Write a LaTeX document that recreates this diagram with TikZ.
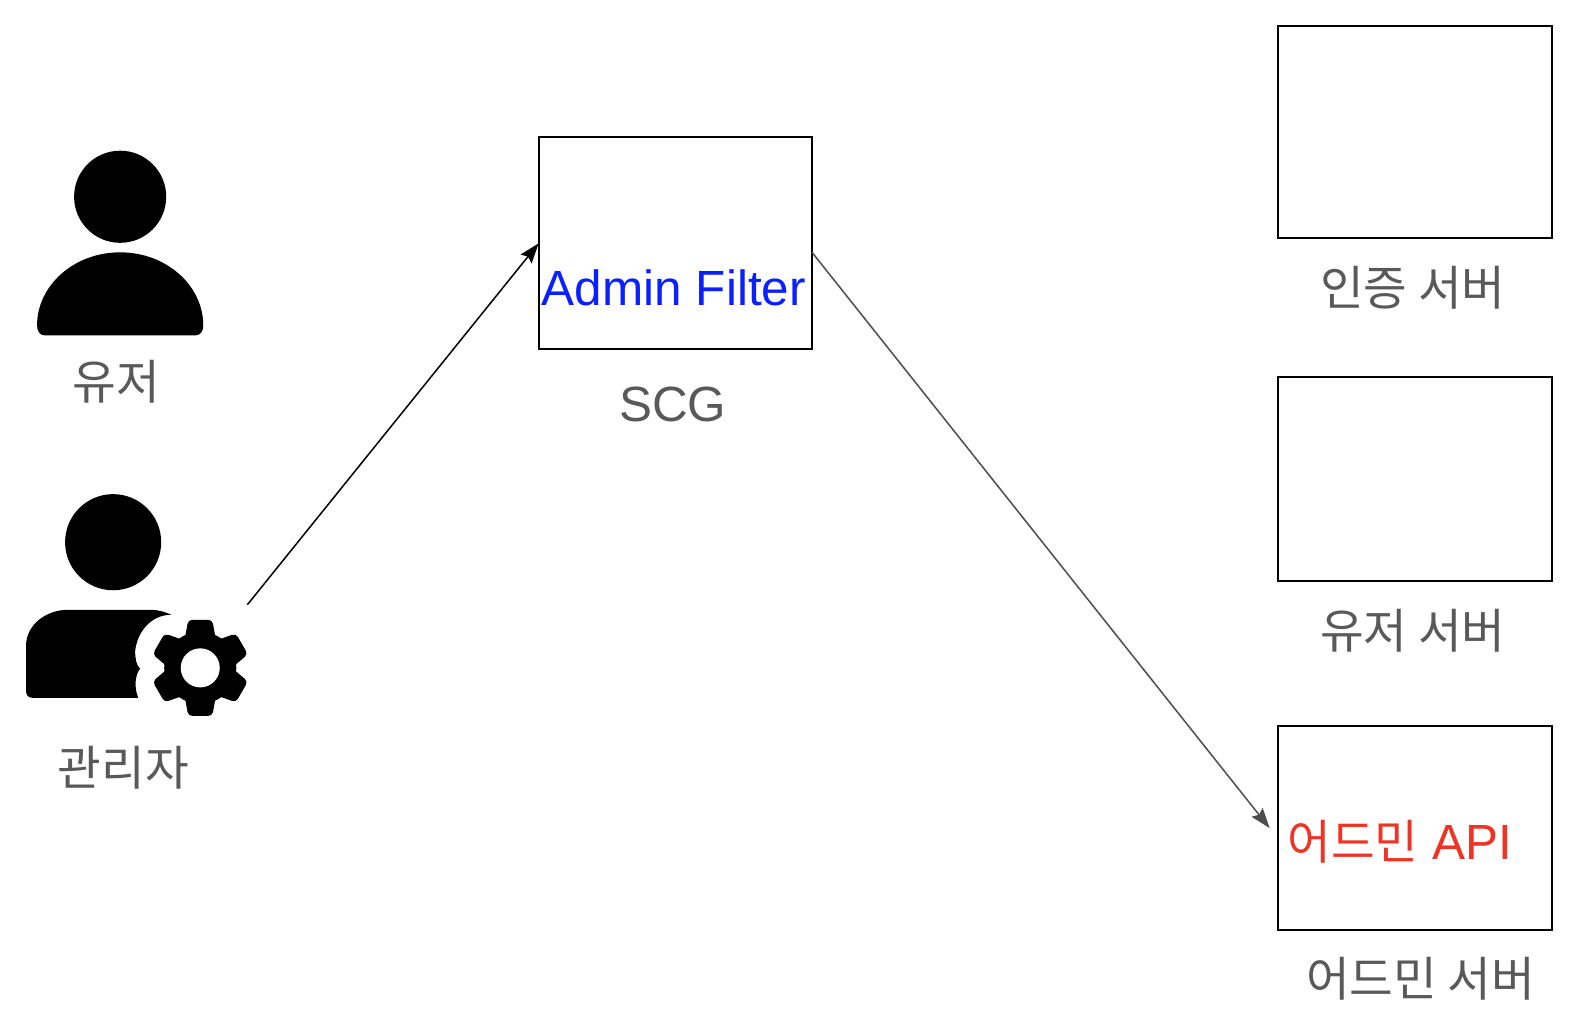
\documentclass[tikz,border=0pt]{standalone}
\usepackage{fontspec}
\setmainfont{Liberation Sans}
\newfontfamily\cjk[Scale=0.96]{Noto Sans CJK KR}
\usetikzlibrary{arrows.meta}
\definecolor{labelgray}{HTML}{595959}
\definecolor{arrowgray}{HTML}{4D4D4D}
\definecolor{filterblue}{HTML}{0A20FF}
\definecolor{apired}{HTML}{EE3424}
\tikzset{
    serverbox/.style={draw=black, line width=1pt, minimum width=137pt, inner sep=0pt, outer sep=0pt},
    caption/.style={text=labelgray, font=\fontsize{24.7}{28}\selectfont, inner sep=0pt},
    inboxtext/.style={font=\fontsize{24.7}{28}\selectfont, inner sep=0pt},
    flow/.style={-{Stealth[length=10pt,width=7pt,inset=1.5pt]}, line width=0.75pt}
}
\begin{document}
\begin{tikzpicture}[x=0.5pt, y=-0.5pt]
    \useasboundingbox (0,0) rectangle (1568,1029);

    % user icon
    \fill (120,196.5) circle (46);
    \fill (37,325) .. controls (37,285) and (74,252) .. (120,252)
        .. controls (166,252) and (203,285) .. (203,325)
        .. controls (203,331) and (200,335) .. (195,335)
        -- (45,335) .. controls (40,335) and (37,331) .. (37,325) -- cycle;

    % admin icon
    \fill (113,541.5) circle (48);
    \fill (26,690) -- (26,645) .. controls (26,624) and (46,609) .. (68,609)
        -- (150,609) .. controls (158,609) and (165,611) .. (171,614)
        .. controls (150,614) and (137,632) .. (135,650)
        .. controls (135,658) and (136,664) .. (140,668)
        .. controls (136,672) and (133,684) .. (138,697)
        -- (33,697) .. controls (28,697) and (26,694) .. (26,690) -- cycle;
    \fill (200,667) circle (36);
    \foreach \ang in {30,90,...,330} {
        \fill[rotate around={\ang:(200,667)}, rounded corners=2pt]
            (226,651) -- (248,655) -- (248,679) -- (226,683) -- cycle;
    }
    \fill[white] (200,667) circle (19.5);

    % boxes
    \node[serverbox, minimum width=136.5pt, minimum height=106pt] (scg) at (674.5,243) {};
    \node[serverbox, minimum height=106pt] (authbox) at (1413,132) {};
    \node[serverbox, minimum height=101.5pt] (userbox) at (1413,478.5) {};
    \node[serverbox, minimum height=102pt] (adminbox) at (1413,827) {};

    % texts
    \node[inboxtext, text=filterblue] (filter) at (673,287) {Admin Filter};
    \node[inboxtext, text=apired] (api) at (1398,841) {{\cjk 어드민} API};
    \node[caption] (scglabel) at (672,404) {SCG};
    \node[caption] (userlabel) at (116,381) {\cjk 유저};
    \node[caption] (adminlabel) at (123,767) {\cjk 관리자};
    \node[caption] (authlabel) at (1411,287) {\cjk 인증 서버};
    \node[caption] (userserver) at (1411,630) {\cjk 유저 서버};
    \node[caption] (adminserver) at (1419,977) {\cjk 어드민 서버};

    % arrows
    \coordinate (adminicon) at (247,604);
    \draw[flow] (adminicon) -- (scg.west);
    \draw[flow, arrowgray] ([yshift=-4.5pt]scg.east) -- ([xshift=-4pt]adminbox.west);
\end{tikzpicture}
\end{document}
